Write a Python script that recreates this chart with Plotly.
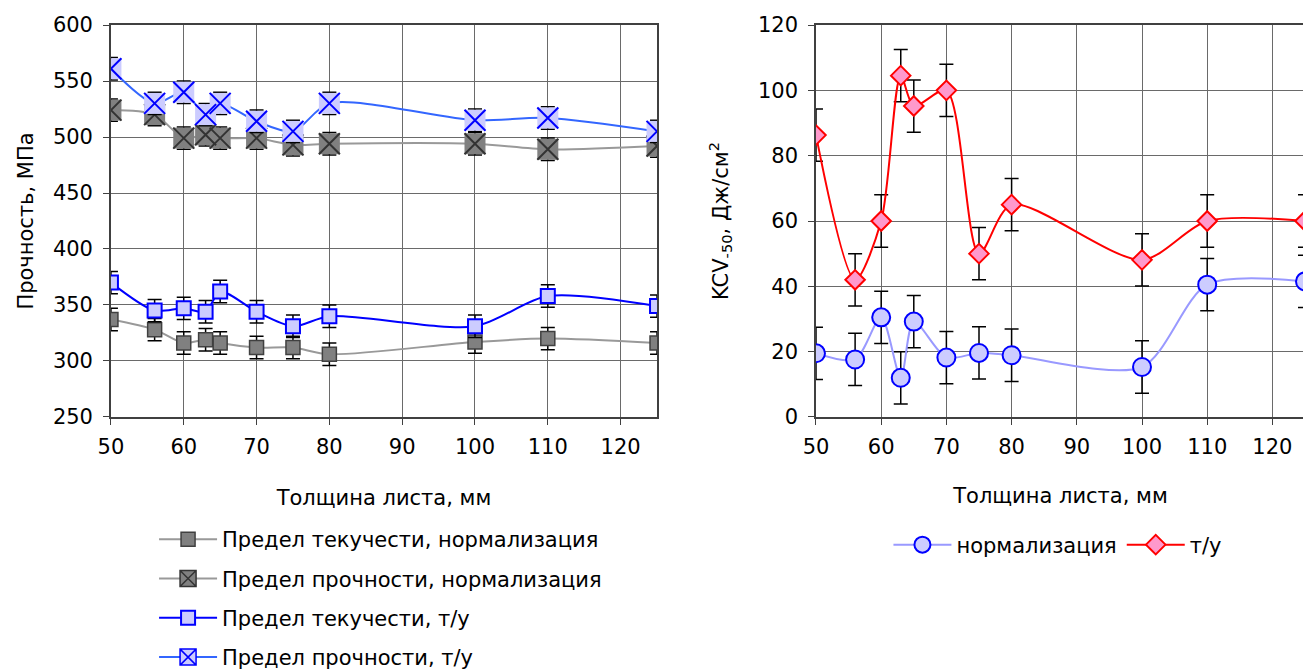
import plotly.graph_objects as go

# ---------------- data ----------------
thickness = [50, 56, 60, 63, 65, 70, 75, 80, 100, 110, 125]

yield_norm = [337, 328, 316, 319, 316, 312, 312, 306, 317, 320, 316]
ultimate_norm = [524, 520, 499, 502, 499, 499, 493, 494, 494, 489, 492]
yield_tu = [370, 345, 347, 344, 362, 344, 331, 340, 331, 358, 349]
ultimate_tu = [561, 530, 540, 520, 530, 514, 505, 530, 515, 517, 505]
strength_err = [10] * 11

kcv_norm = [19.5, 17.6, 30.5, 12.0, 29.2, 18.2, 19.6, 18.9, 15.3, 40.5, 41.5]
kcv_tu = [86.3, 42.0, 60.0, 104.5, 95.2, 100.0, 50.0, 65.0, 48.1, 60.0, 60.0]
kcv_err = [8] * 11

x_ticks = [50, 60, 70, 80, 90, 100, 110, 120]
left_y_ticks = [250, 300, 350, 400, 450, 500, 550, 600]
right_y_ticks = [0, 20, 40, 60, 80, 100, 120]

names_left = ["Предел текучести, нормализация", "Предел прочности, нормализация",
              "Предел текучести, т/у", "Предел прочности, т/у"]
names_right = ["нормализация", "т/у"]

FONT = "DejaVu Sans, Arial, sans-serif"
FS = 21
fig = go.Figure()


def err(arr):
    return dict(type="data", array=arr, visible=True, color="black", thickness=1.5, width=7)


# ---- left chart ----
# 1: yield, normalization
fig.add_trace(go.Scatter(
    x=thickness, y=yield_norm, mode="lines+markers", name=names_left[0],
    line=dict(color="#999999", width=2, shape="spline", smoothing=0.8),
    marker=dict(symbol="square", size=14, color="#808080", line=dict(color="#404040", width=1.5)),
    error_y=err(strength_err), xaxis="x", yaxis="y", legend="legend", legendgroup="g1"))
# 2: ultimate, normalization (legend entry + marks)
fig.add_trace(go.Scatter(
    x=[None], y=[None], mode="lines+markers", name=names_left[1],
    line=dict(color="#999999", width=2),
    marker=dict(symbol="square-x", size=18, color="#808080", line=dict(color="#333333", width=1.5)),
    xaxis="x", yaxis="y", legend="legend", legendgroup="g2"))
fig.add_trace(go.Scatter(
    x=thickness, y=ultimate_norm, mode="lines+markers", showlegend=False,
    line=dict(color="#999999", width=2, shape="spline", smoothing=0.8),
    marker=dict(symbol="square", size=21, color="#808080", line=dict(color="#808080", width=0)),
    error_y=err(strength_err), xaxis="x", yaxis="y", legendgroup="g2"))
fig.add_trace(go.Scatter(
    x=thickness, y=ultimate_norm, mode="markers", showlegend=False,
    marker=dict(symbol="x-thin-open", size=21, color="#333333", line=dict(color="#333333", width=2)),
    xaxis="x", yaxis="y", hoverinfo="skip", legendgroup="g2"))
# 3: yield, t/u
fig.add_trace(go.Scatter(
    x=thickness, y=yield_tu, mode="lines+markers", name=names_left[2],
    line=dict(color="#0000FF", width=2, shape="spline", smoothing=0.8),
    marker=dict(symbol="square", size=14, color="#CCCCFF", line=dict(color="#0000FF", width=2)),
    error_y=err(strength_err), xaxis="x", yaxis="y", legend="legend", legendgroup="g3"))
# 4: ultimate, t/u
fig.add_trace(go.Scatter(
    x=[None], y=[None], mode="lines+markers", name=names_left[3],
    line=dict(color="#3366FF", width=2),
    marker=dict(symbol="square-x", size=18, color="#CCCCFF", line=dict(color="#0000FF", width=1.5)),
    xaxis="x", yaxis="y", legend="legend", legendgroup="g4"))
fig.add_trace(go.Scatter(
    x=thickness, y=ultimate_tu, mode="lines+markers", showlegend=False,
    line=dict(color="#3366FF", width=2, shape="spline", smoothing=0.8),
    marker=dict(symbol="square", size=21, color="#CCCCFF", line=dict(color="#CCCCFF", width=0)),
    error_y=err(strength_err), xaxis="x", yaxis="y", legendgroup="g4"))
fig.add_trace(go.Scatter(
    x=thickness, y=ultimate_tu, mode="markers", showlegend=False,
    marker=dict(symbol="x-thin-open", size=21, color="#0000FF", line=dict(color="#0000FF", width=2)),
    xaxis="x", yaxis="y", hoverinfo="skip", legendgroup="g4"))

# ---- right chart ----
fig.add_trace(go.Scatter(
    x=thickness, y=kcv_norm, mode="lines+markers", name=names_right[0],
    line=dict(color="#9999FF", width=2, shape="spline", smoothing=0.8),
    marker=dict(symbol="circle", size=18, color="#CCCCFF", line=dict(color="#0000FF", width=2)),
    error_y=err(kcv_err), xaxis="x2", yaxis="y2", legend="legend2"))
fig.add_trace(go.Scatter(
    x=thickness, y=kcv_tu, mode="lines+markers", name=names_right[1],
    line=dict(color="#FF0000", width=2, shape="spline", smoothing=0.8),
    marker=dict(symbol="diamond", size=15, color="#FF99CC", line=dict(color="#FF0000", width=2)),
    error_y=err(kcv_err), xaxis="x2", yaxis="y2", legend="legend2"))

axis_common = dict(
    showgrid=True, gridcolor="#6a6a6a", gridwidth=1,
    showline=True, linecolor="#404040", linewidth=1.5, mirror=True,
    ticks="outside", ticklen=6, tickcolor="#404040",
    tickfont=dict(family=FONT, size=FS, color="black"),
    zeroline=False, automargin=False,
)
title_font = dict(family=FONT, size=FS, color="black")

# page is rendered with an 8px body margin, so the figure is 8px smaller
W, H = 1303, 662

fig.update_layout(
    width=W, height=H,
    margin=dict(l=0, r=0, t=0, b=0, autoexpand=False),
    paper_bgcolor="white", plot_bgcolor="white",
    font=dict(family=FONT, size=FS, color="black"),
    xaxis=dict(axis_common, domain=[0.0790, 0.4981], range=[50, 125], tickvals=x_ticks,
               ticklabelstandoff=4,
               title=dict(text="Толщина листа, мм", font=title_font, standoff=32)),
    yaxis=dict(axis_common, domain=[0.3822, 0.9743], range=[250, 600], tickvals=left_y_ticks,
               ticklabelstandoff=6,
               title=dict(text="Прочность, МПа", font=title_font, standoff=14)),
    xaxis2=dict(axis_common, domain=[0.6201, 0.9954], range=[50, 125], tickvals=x_ticks,
                anchor="y2", ticklabelstandoff=4,
                title=dict(text="Толщина листа, мм", font=title_font, standoff=30)),
    yaxis2=dict(axis_common, domain=[0.3822, 0.9743], range=[0, 120], tickvals=right_y_ticks,
                anchor="x2", ticklabelstandoff=6,
                title=dict(text="KCV<sub>-50</sub>, Дж/см<sup>2</sup>", font=title_font, standoff=24)),
    legend=dict(x=0.1121, y=0.228, xanchor="left", yanchor="top", orientation="v",
                font=dict(family=FONT, size=FS), tracegroupgap=9, itemwidth=58,
                traceorder="grouped", bgcolor="rgba(0,0,0,0)"),
    legend2=dict(x=0.6757, y=0.1888, xanchor="left", yanchor="middle", orientation="h",
                 font=dict(family=FONT, size=FS), itemwidth=58, bgcolor="rgba(0,0,0,0)"),
    showlegend=True,
)

fig.write_html("out.html")
